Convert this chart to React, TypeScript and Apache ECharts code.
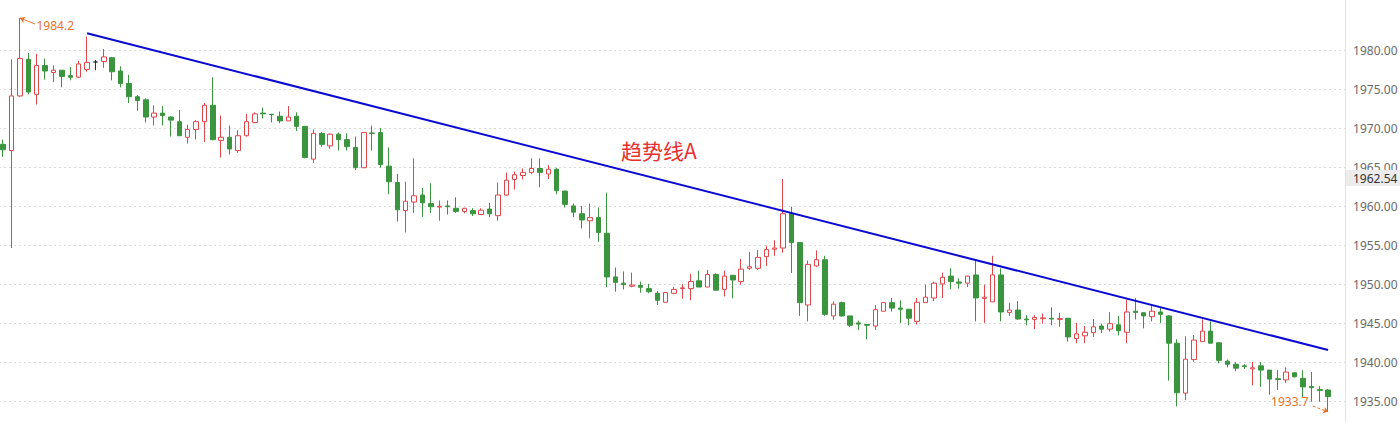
import React, { useEffect, useRef } from "react";
import * as echarts from "echarts";

// OHLC values (one entry per candle)
const opens = [
  1968.0, 1967.2, 1974.2, 1978.9, 1974.4, 1978.1, 1977.2, 1977.5, 1976.8, 1976.6,
  1977.6, 1978.55, 1978.6, 1979.1, 1977.4, 1975.8, 1974.1, 1973.7, 1971.5, 1972.0,
  1971.5, 1970.9, 1968.9, 1969.9, 1970.9, 1973.0, 1968.5, 1968.9, 1967.2, 1969.1,
  1970.8, 1972.0, 1971.85, 1971.6, 1971.0, 1971.6, 1970.3, 1966.1, 1969.4, 1967.8,
  1969.3, 1968.6, 1967.6, 1965.0, 1969.45, 1969.5, 1965.2, 1963.1, 1959.5, 1960.6,
  1961.5, 1960.4, 1959.95, 1960.1, 1959.8, 1959.4, 1959.5, 1959.0, 1959.7, 1958.85,
  1961.5, 1963.5, 1964.0, 1964.4, 1964.9, 1964.2, 1964.8, 1962.0, 1960.1, 1959.1,
  1958.2, 1958.6, 1956.6, 1951.0, 1950.2, 1949.8, 1949.9, 1949.5, 1948.9, 1947.75,
  1948.9, 1949.5, 1949.5, 1950.5, 1949.7, 1951.3, 1949.4, 1951.2, 1950.4, 1952.1,
  1952.1, 1953.6, 1954.55, 1954.7, 1959.15, 1955.4, 1947.4, 1952.4, 1953.2, 1946.0,
  1947.7, 1946.0, 1945.1, 1944.9, 1944.7, 1946.6, 1947.7, 1947.0, 1946.85, 1945.3,
  1947.7, 1948.3, 1950.1, 1951.1, 1950.35, 1950.2, 1951.25, 1948.25, 1947.8, 1951.25,
  1946.45, 1946.75, 1945.6, 1945.55, 1945.65, 1945.7, 1945.55, 1945.7, 1943.1, 1943.45,
  1943.85, 1944.7, 1944.3, 1944.85, 1943.9, 1946.6, 1946.4, 1945.9, 1946.5, 1946.0,
  1942.5, 1936.1, 1940.4, 1942.7, 1944.05, 1942.55, 1940.2, 1939.8, 1939.6, 1939.2,
  1939.6, 1939.05, 1937.95, 1937.8, 1938.7, 1938.0, 1936.95, 1936.55, 1936.5,
];
const closes = [
  1967.3, 1974.2, 1979.0, 1974.7, 1978.1, 1977.4, 1977.5, 1976.7, 1976.6, 1978.3,
  1978.5, 1978.55, 1979.2, 1977.3, 1975.8, 1974.1, 1973.6, 1971.5, 1972.0, 1971.7,
  1971.1, 1969.1, 1969.9, 1970.9, 1973.0, 1968.6, 1968.9, 1967.4, 1969.1, 1970.9,
  1971.9, 1971.9, 1971.8, 1971.0, 1971.5, 1970.3, 1966.3, 1969.4, 1968.0, 1969.3,
  1968.6, 1967.7, 1965.0, 1969.5, 1969.4, 1965.4, 1963.2, 1959.6, 1960.7, 1961.4,
  1960.5, 1960.0, 1960.05, 1960.0, 1959.4, 1959.8, 1959.1, 1959.55, 1959.1, 1961.5,
  1963.4, 1964.1, 1964.4, 1964.9, 1964.4, 1964.8, 1962.05, 1960.3, 1959.3, 1958.3,
  1958.6, 1956.7, 1951.0, 1950.3, 1950.0, 1949.95, 1949.67, 1949.1, 1948.0, 1949.0,
  1949.4, 1949.6, 1950.4, 1949.7, 1951.3, 1949.3, 1951.1, 1950.6, 1952.0, 1952.3,
  1953.5, 1954.5, 1954.7, 1959.1, 1955.4, 1947.7, 1952.6, 1953.2, 1946.2, 1947.5,
  1946.0, 1944.8, 1944.95, 1944.8, 1946.8, 1947.7, 1947.0, 1946.85, 1945.7, 1947.75,
  1948.4, 1950.2, 1950.95, 1950.4, 1950.2, 1951.1, 1948.3, 1948.4, 1951.25, 1946.5,
  1946.75, 1945.6, 1945.5, 1945.8, 1945.75, 1945.6, 1945.65, 1943.3, 1943.7, 1943.9,
  1944.6, 1944.3, 1945.0, 1944.1, 1946.5, 1946.45, 1946.0, 1946.6, 1946.2, 1942.5,
  1936.15, 1940.45, 1942.9, 1944.05, 1942.5, 1940.3, 1939.8, 1939.3, 1939.5, 1939.35,
  1939.05, 1937.9, 1937.85, 1938.8, 1938.2, 1936.9, 1936.8, 1936.45, 1935.65,
];
const lows = [
  1966.4, 1954.7, 1974.1, 1974.4, 1973.1, 1976.3, 1976.0, 1975.3, 1976.2, 1976.5,
  1977.3, 1977.5, 1977.8, 1976.2, 1975.3, 1973.3, 1972.3, 1970.8, 1970.4, 1970.4,
  1969.0, 1969.1, 1968.1, 1968.6, 1968.3, 1968.5, 1966.3, 1966.7, 1966.9, 1969.0,
  1970.7, 1971.3, 1970.8, 1970.7, 1971.0, 1969.7, 1966.2, 1965.6, 1967.7, 1967.4,
  1967.2, 1967.2, 1964.7, 1964.95, 1967.2, 1965.0, 1961.6, 1958.1, 1956.7, 1959.2,
  1958.7, 1959.2, 1958.2, 1959.0, 1959.2, 1959.15, 1958.8, 1959.0, 1958.65, 1958.2,
  1961.4, 1962.2, 1963.5, 1964.15, 1962.5, 1963.55, 1961.6, 1959.9, 1958.65, 1957.2,
  1955.95, 1955.5, 1949.7, 1949.1, 1949.4, 1949.67, 1948.97, 1948.9, 1947.4, 1947.7,
  1948.8, 1948.2, 1948.0, 1949.7, 1949.7, 1949.3, 1948.5, 1948.25, 1950.0, 1951.9,
  1951.9, 1952.4, 1953.7, 1954.1, 1951.5, 1946.0, 1945.3, 1952.3, 1946.0, 1945.5,
  1945.9, 1944.6, 1944.2, 1943.0, 1944.2, 1946.6, 1946.55, 1945.1, 1944.8, 1944.9,
  1947.65, 1947.9, 1948.3, 1949.4, 1949.5, 1949.7, 1945.3, 1945.1, 1947.8, 1945.3,
  1946.0, 1945.5, 1944.8, 1944.3, 1945.0, 1944.8, 1944.6, 1942.7, 1942.5, 1942.5,
  1943.3, 1943.8, 1944.0, 1943.5, 1942.5, 1945.55, 1944.4, 1945.3, 1945.1, 1937.7,
  1934.4, 1935.2, 1940.1, 1942.7, 1942.5, 1939.9, 1939.4, 1938.9, 1939.2, 1937.1,
  1936.9, 1935.9, 1936.5, 1937.4, 1938.1, 1935.6, 1935.0, 1935.0, 1933.7,
];
const highs = [
  1968.6, 1978.9, 1984.2, 1979.7, 1979.6, 1979.0, 1978.1, 1977.5, 1977.9, 1978.7,
  1981.8, 1978.8, 1980.2, 1979.2, 1978.0, 1976.9, 1974.3, 1973.9, 1973.0, 1972.9,
  1971.6, 1972.4, 1970.5, 1971.1, 1973.3, 1976.6, 1971.7, 1970.4, 1969.8, 1971.9,
  1972.1, 1972.7, 1971.9, 1972.2, 1972.9, 1972.1, 1970.3, 1969.9, 1969.6, 1969.4,
  1969.5, 1969.4, 1969.0, 1969.6, 1970.4, 1970.1, 1967.6, 1964.2, 1963.2, 1966.2,
  1962.4, 1963.0, 1960.8, 1960.8, 1961.2, 1959.85, 1959.8, 1959.8, 1960.5, 1963.1,
  1964.4, 1964.5, 1964.9, 1966.2, 1966.2, 1965.35, 1965.0, 1962.05, 1960.4, 1960.1,
  1960.4, 1959.9, 1961.8, 1952.2, 1951.7, 1951.55, 1950.4, 1950.1, 1949.2, 1949.05,
  1949.7, 1950.1, 1951.4, 1951.8, 1951.9, 1951.45, 1951.8, 1951.2, 1953.3, 1954.2,
  1954.45, 1955.0, 1955.7, 1963.55, 1960.0, 1955.4, 1953.1, 1954.4, 1953.7, 1947.85,
  1947.85, 1946.0, 1945.4, 1944.95, 1947.4, 1947.8, 1948.3, 1948.0, 1946.9, 1948.3,
  1950.0, 1950.4, 1951.55, 1952.1, 1950.8, 1951.15, 1953.2, 1950.0, 1953.7, 1952.1,
  1947.7, 1947.9, 1946.1, 1946.1, 1946.3, 1947.1, 1946.4, 1945.7, 1945.1, 1944.7,
  1945.6, 1945.0, 1946.5, 1946.0, 1948.1, 1948.3, 1946.45, 1947.3, 1947.1, 1946.1,
  1943.0, 1943.4, 1943.55, 1945.55, 1945.3, 1942.6, 1940.4, 1940.1, 1939.8, 1940.1,
  1940.1, 1939.05, 1939.05, 1939.4, 1938.8, 1939.05, 1938.8, 1937.0, 1936.6,
];

// category labels (two trailing empty slots on the right)
const categories = opens.map((_, i) => `K${i + 1}`).concat(["K160", "K161"]);

// y-axis ticks (labels 1935.00 … 1980.00; 1930 and 1985 are hidden edges)
const yMin = 1930;
const yMax = 1985;
const yInterval = 5;

// annotations
const trendStart: [string, number] = ["K11", 1982.23];
const trendEnd: [string, number] = ["K159", 1941.63];
const trendLabel = "趋势线A";
const highPoint: [string, number] = ["K3", 1984.2];
const lowPoint: [string, number] = ["K159", 1933.7];
const lastPrice = 1962.54;

const UP = "#e0474c";
const DOWN = "#3a953e";
const ORANGE = "#e5732b";

export default function App() {
  const ref = useRef<HTMLDivElement>(null);

  useEffect(() => {
    if (!ref.current) return;
    const chart = echarts.init(ref.current, undefined, { renderer: "svg" });
    const ohlc = opens.map((o, i) => [o, closes[i], lows[i], highs[i]]);

    chart.setOption({
      animation: false,
      backgroundColor: "#ffffff",
      textStyle: { fontFamily: "Noto Sans" },
      grid: {
        left: -1,
        top: 11.7,
        width: 1350.1,
        height: 429,
        containLabel: false,
        outerBoundsMode: "none",
      },
      xAxis: {
        type: "category",
        data: categories,
        boundaryGap: true,
        axisLine: { show: false },
        axisTick: { show: false },
        axisLabel: { show: false },
        splitLine: { show: false },
      },
      yAxis: {
        type: "value",
        position: "right",
        offset: -4,
        min: yMin,
        max: yMax,
        interval: yInterval,
        axisLine: { show: false },
        axisTick: { show: false },
        axisLabel: {
          margin: 8,
          color: "#6a6a6a",
          fontSize: 12,
          fontFamily: "Noto Sans",
          showMaxLabel: false,
          showMinLabel: false,
          formatter: (v: number) => v.toFixed(2),
        },
        splitLine: {
          show: true,
          showMaxLine: false,
          showMinLine: false,
          lineStyle: { color: "#d9d9d9", type: [2, 3], width: 1 },
        },
      },
      series: [
        {
          type: "candlestick",
          data: ohlc,
          barWidth: 5,
          clip: false,
          itemStyle: {
            color: "#ffffff",
            color0: DOWN,
            borderColor: UP,
            borderColor0: DOWN,
            borderColorDoji: "#333333",
            borderWidth: 1,
          },
          emphasis: { disabled: true },
          markLine: {
            silent: true,
            animation: false,
            symbol: ["none", "none"],
            label: { show: false },
            emphasis: { disabled: true },
            data: [
              [
                { coord: trendStart, lineStyle: { color: "#0a0ad2", width: 2, type: "solid" } },
                { coord: trendEnd },
              ],
              [
                { x: 35, y: 24, symbol: "none", lineStyle: { color: ORANGE, width: 1, type: "solid" } },
                { coord: highPoint, symbol: "arrow", symbolSize: 5 },
              ],
              [
                { x: 1312.7, y: 406, symbol: "none", lineStyle: { color: ORANGE, width: 1, type: [3, 2] } },
                { coord: lowPoint, symbol: "arrow", symbolSize: 5 },
              ],
            ],
          },
          markPoint: {
            silent: true,
            animation: false,
            symbol: "circle",
            symbolSize: 1,
            itemStyle: { color: "rgba(0,0,0,0)" },
            data: [
              {
                coord: highPoint,
                value: highPoint[1],
                label: {
                  show: true,
                  position: [17, 8],
                  align: "left",
                  verticalAlign: "middle",
                  color: ORANGE,
                  fontSize: 12,
                  fontFamily: "Noto Sans",
                  formatter: () => highPoint[1].toFixed(1),
                },
              },
              {
                coord: lowPoint,
                value: lowPoint[1],
                label: {
                  show: true,
                  position: [-19, -10],
                  align: "right",
                  verticalAlign: "middle",
                  color: ORANGE,
                  fontSize: 12,
                  fontFamily: "Noto Sans",
                  formatter: () => lowPoint[1].toFixed(1),
                },
              },
            ],
          },
        },
      ],
      graphic: [
        {
          type: "line",
          z: 50,
          shape: { x1: 1345.5, y1: 0, x2: 1345.5, y2: 422 },
          style: { stroke: "#e3e3e3", lineWidth: 1 },
        },
        {
          type: "text",
          left: 621,
          top: 139,
          z: 100,
          style: {
            text: trendLabel,
            fill: "#e8302f",
            font: '21px "Noto Sans CJK SC", "Noto Sans", sans-serif',
          },
        },
        {
          type: "rect",
          z: 100,
          shape: { x: 1346, y: 170, width: 54, height: 16 },
          style: { fill: "#ececec" },
        },
        {
          type: "text",
          z: 101,
          x: 1353,
          y: 178,
          style: {
            text: lastPrice.toFixed(2),
            fill: "#333333",
            font: '12px "Noto Sans", sans-serif',
            verticalAlign: "middle",
          },
        },
      ],
    });

    return () => chart.dispose();
  }, []);

  return (
    <div
      ref={ref}
      style={{ position: "fixed", left: 0, top: 0, width: 1400, height: 422, overflow: "hidden" }}
    />
  );
}
